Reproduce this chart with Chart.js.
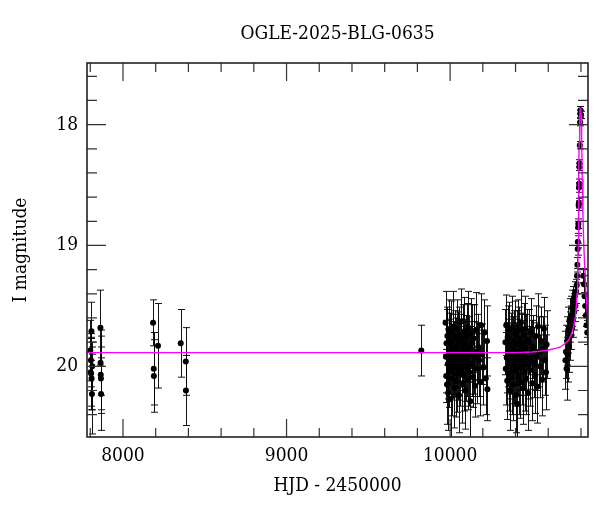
<!DOCTYPE html>
<html>
<head>
<meta charset="utf-8">
<script src="https://cdn.jsdelivr.net/npm/chart.js@4/dist/chart.umd.min.js"></script>
<style>
  html, body { margin: 0; padding: 0; background: #fff; }
</style>
</head>
<body>
<canvas id="lc" width="600" height="512"></canvas>
<script>
// OGLE light curve
var baseT = [7800, 7802, 7804, 7805, 7807, 7808, 7810, 7812, 7862, 7863, 7864, 7865, 7866,
    8184, 8188, 8189, 8214, 8353, 8384, 8385, 9824];
var baseMag = [19.87, 20.05, 19.95, 20.06, 19.71, 20.10, 20.23, 20.00, 19.68, 19.97, 20.07, 20.10, 20.23,
    19.64, 20.02, 20.08, 19.83, 19.81, 19.96, 20.20, 19.87];
var baseErr = [0.25, 0.28, 0.22, 0.30, 0.24, 0.26, 0.33, 0.2, 0.31, 0.27, 0.32, 0.26, 0.3,
    0.19, 0.3, 0.3, 0.35, 0.28, 0.28, 0.29, 0.21];

var s1T = [9972, 9974, 9976, 9978, 9981, 9983, 9986, 9988, 9991, 9993, 9996, 9999, 10002, 10004,
    10007, 10010, 10012, 10015, 10018, 10020, 10023, 10026, 10029, 10031, 10034, 10037, 10040,
    10042, 10045, 10048, 10051, 10054, 10057, 10060, 10063, 10066, 10069, 10072, 10075, 10078,
    10081, 10084, 10087, 10090, 10093, 10096, 10099, 10102, 10105, 10108, 10111, 10114, 10117,
    10120, 10124, 10128, 10132, 10136, 10140, 10144, 10148, 10152, 10157, 10162, 10167, 10172,
    10178, 10184, 10190, 10196, 10203, 10210, 10218, 10225, 10228];
var s1Mag = [19.64, 19.92, 20.08, 19.81, 20.15, 19.75, 19.98, 20.22, 19.70, 19.88, 20.04, 19.79, 19.95, 20.27,
    19.72, 19.90, 20.10, 19.84, 19.67, 20.01, 19.93, 20.18, 19.76, 19.97, 19.86, 20.12, 19.69,
    19.91, 20.06, 19.80, 19.99, 20.24, 19.74, 19.89, 20.03, 19.83, 19.63, 19.96, 20.14, 19.78,
    19.92, 20.07, 19.71, 19.87, 20.20, 19.82, 20.00, 19.75, 19.94, 20.11, 19.68, 19.85, 20.05,
    19.90, 20.29, 19.73, 19.98, 19.81, 20.09, 19.77, 19.93, 20.16, 19.70, 19.88, 20.02, 19.84,
    19.95, 20.13, 19.66, 19.90, 20.01, 19.72, 20.10, 19.79, 20.19];
var s1Err = [0.26, 0.3, 0.22, 0.28, 0.33, 0.24, 0.29, 0.31, 0.25, 0.27, 0.3, 0.23, 0.28, 0.32,
    0.26, 0.24, 0.31, 0.27, 0.29, 0.25, 0.3, 0.33, 0.22, 0.28, 0.26, 0.3, 0.24,
    0.27, 0.32, 0.25, 0.29, 0.31, 0.23, 0.28, 0.3, 0.26, 0.27, 0.24, 0.33, 0.29,
    0.25, 0.3, 0.28, 0.26, 0.32, 0.24, 0.29, 0.27, 0.31, 0.25, 0.3, 0.26, 0.28,
    0.23, 0.3, 0.29, 0.27, 0.32, 0.25, 0.28, 0.3, 0.26, 0.31, 0.24, 0.29, 0.27,
    0.3, 0.28, 0.26, 0.25, 0.31, 0.27, 0.3, 0.29, 0.26];

var s2T = [10338, 10340, 10343, 10346, 10349, 10352, 10355, 10358, 10361, 10364, 10367, 10370,
    10373, 10376, 10379, 10382, 10385, 10388, 10391, 10394, 10397, 10400, 10403, 10406, 10409,
    10412, 10415, 10418, 10421, 10424, 10427, 10430, 10433, 10436, 10439, 10442, 10445, 10448,
    10451, 10454, 10457, 10460, 10463, 10466, 10470, 10474, 10478, 10482, 10486, 10490, 10494,
    10498, 10503, 10508, 10513, 10518, 10523, 10528, 10533, 10538, 10544, 10550, 10556, 10562,
    10568, 10574, 10580, 10586, 10590];
var s2Mag = [19.80, 20.02, 19.66, 19.93, 20.12, 19.76, 19.89, 20.06, 19.71, 19.97, 20.20, 19.83,
    19.94, 20.09, 19.68, 19.87, 20.15, 19.79, 19.99, 20.04, 19.73, 19.90, 20.24, 19.82, 20.31,
    19.95, 19.70, 19.88, 20.08, 19.77, 19.92, 20.13, 19.64, 19.86, 20.01, 19.81, 19.96, 20.18,
    19.74, 19.91, 20.05, 19.69, 19.85, 20.10, 19.78, 19.98, 20.22, 19.80, 19.93, 20.03, 19.72,
    19.89, 20.14, 19.84, 19.97, 20.07, 19.75, 19.92, 20.17, 19.67, 19.88, 20.00, 19.79, 20.11,
    19.86, 19.69, 19.95, 20.05, 19.82];
var s2Err = [0.27, 0.3, 0.25, 0.29, 0.32, 0.26, 0.28, 0.31, 0.24, 0.3, 0.33, 0.27,
    0.29, 0.31, 0.26, 0.28, 0.3, 0.25, 0.32, 0.29, 0.27, 0.26, 0.31, 0.28, 0.3,
    0.29, 0.25, 0.27, 0.32, 0.26, 0.28, 0.3, 0.27, 0.29, 0.31, 0.25, 0.28, 0.3,
    0.26, 0.29, 0.32, 0.27, 0.28, 0.3, 0.25, 0.29, 0.31, 0.27, 0.26, 0.3, 0.28,
    0.27, 0.31, 0.26, 0.29, 0.32, 0.25, 0.28, 0.3, 0.27, 0.29, 0.26, 0.28, 0.3,
    0.27, 0.26, 0.29, 0.31, 0.28];

var riseT = [10705, 10708, 10712, 10715, 10718, 10722, 10726, 10730, 10734, 10738, 10742,
    10746, 10750, 10754, 10758, 10762, 10766, 10770];
var riseMag = [19.95, 19.88, 20.02, 19.79, 19.90, 19.70, 19.84, 19.62, 19.75, 19.58, 19.68,
    19.52, 19.60, 19.47, 19.55, 19.42, 19.50, 19.38];
var riseErr = [0.24, 0.22, 0.26, 0.2, 0.23, 0.19, 0.21, 0.18, 0.2, 0.16, 0.18,
    0.15, 0.16, 0.13, 0.15, 0.12, 0.13, 0.1];

var peakT = [10774, 10776, 10778, 10780, 10781, 10783, 10784, 10786, 10787, 10788, 10789,
    10790, 10791, 10793, 10795, 10796, 10797, 10800,
    10814, 10818, 10822, 10826, 10830, 10834, 10838];
var peakMag = [19.33, 19.25, 19.16, 19.03, 18.97, 18.85, 18.82, 18.67, 18.65, 18.52, 18.49,
    18.35, 18.32, 18.17, 17.98, 17.91, 17.88, 17.92,
    19.25, 19.32, 19.42, 19.50, 19.58, 19.66, 19.72];
var peakErr = [0.07, 0.06, 0.06, 0.05, 0.05, 0.05, 0.04, 0.04, 0.04, 0.04, 0.04,
    0.03, 0.03, 0.03, 0.03, 0.03, 0.03, 0.03,
    0.06, 0.07, 0.08, 0.08, 0.09, 0.1, 0.1];

// model curve
var modelT = [7700, 10400, 10500, 10551, 10600, 10650, 10674, 10700, 10724, 10740, 10755, 10765,
    10771, 10776, 10780, 10783, 10785, 10787, 10789, 10792, 10795, 10798, 10801, 10804,
    10808, 10812, 10816, 10822, 10830, 10837, 10843, 10850];
var modelMag = [19.887, 19.887, 19.882, 19.875, 19.865, 19.85, 19.84, 19.815, 19.785, 19.74, 19.675, 19.60,
    19.51, 19.40, 19.25, 19.00, 18.70, 18.40, 18.15, 17.95, 17.87, 17.86, 17.92, 18.10,
    18.45, 18.75, 18.95, 19.15, 19.38, 19.52, 19.65, 19.76];

var xTicks = [7800, 8000, 8200, 8400, 8600, 8800, 9000, 9200, 9400, 9600, 9800, 10000,
    10200, 10400, 10600, 10800];
var xLabels = [8000, 9000, 10000];
var yTicks = [17.6, 17.8, 18, 18.2, 18.4, 18.6, 18.8, 19, 19.2, 19.4, 19.6, 19.8, 20, 20.2, 20.4];
var yLabels = [18, 19, 20];

var allT = baseT.concat(s1T, s2T, riseT, peakT);
var allMag = baseMag.concat(s1Mag, s2Mag, riseMag, peakMag);
var allErr = baseErr.concat(s1Err, s2Err, riseErr, peakErr);

var FONT = "'DejaVu Serif Condensed', 'DejaVu Serif', 'Liberation Serif', serif";
var FSIZE = 19;

var errorBars = {
    id: 'errorBars',
    beforeDatasetsDraw: function (chart) {
        var ctx = chart.ctx, xs = chart.scales.x, ys = chart.scales.y, a = chart.chartArea;
        ctx.save();
        ctx.beginPath();
        ctx.rect(a.left, a.top, a.right - a.left, a.bottom - a.top);
        ctx.clip();
        ctx.strokeStyle = 'rgba(0,0,0,0.92)';
        ctx.lineWidth = 1;
        for (var i = 0; i < allT.length; i++) {
            var px = Math.round(xs.getPixelForValue(allT[i])) + 0.5;
            var y1 = ys.getPixelForValue(allMag[i] - allErr[i]);
            var y2 = ys.getPixelForValue(allMag[i] + allErr[i]);
            ctx.beginPath();
            ctx.moveTo(px, y1); ctx.lineTo(px, y2);
            ctx.moveTo(px - 3.5, y1); ctx.lineTo(px + 3.5, y1);
            ctx.moveTo(px - 3.5, y2); ctx.lineTo(px + 3.5, y2);
            ctx.stroke();
        }
        ctx.restore();
    }
};

var frame = {
    id: 'frame',
    afterDraw: function (chart) {
        var ctx = chart.ctx, xs = chart.scales.x, ys = chart.scales.y, a = chart.chartArea;
        ctx.save();
        ctx.strokeStyle = '#333';
        ctx.lineWidth = 1.2;
        ctx.beginPath();
        xTicks.forEach(function (v) {
            var p = xs.getPixelForValue(v);
            var len = xLabels.indexOf(v) >= 0 ? 18 : 9;
            ctx.moveTo(p, a.bottom); ctx.lineTo(p, a.bottom - len);
            ctx.moveTo(p, a.top); ctx.lineTo(p, a.top + len);
        });
        yTicks.forEach(function (v) {
            var p = ys.getPixelForValue(v);
            var len = yLabels.indexOf(v) >= 0 ? 19 : 10;
            ctx.moveTo(a.left, p); ctx.lineTo(a.left + len, p);
            ctx.moveTo(a.right, p); ctx.lineTo(a.right - len, p);
        });
        ctx.stroke();
        ctx.strokeStyle = '#222';
        ctx.lineWidth = 1.6;
        ctx.strokeRect(a.left, a.top, a.right - a.left, a.bottom - a.top);
        ctx.restore();
    }
};

var points = allT.map(function (t, i) { return { x: t, y: allMag[i] }; });
var model = modelT.map(function (t, i) { return { x: t, y: modelMag[i] }; });

new Chart(document.getElementById('lc').getContext('2d'), {
    type: 'scatter',
    data: {
        datasets: [{
            type: 'line',
            data: model,
            borderColor: '#ff00ff',
            borderWidth: 1.4,
            pointRadius: 0,
            tension: 0,
            fill: false,
            order: 0
        }, {
            data: points,
            pointRadius: 3,
            pointBackgroundColor: '#000',
            pointBorderWidth: 0,
            order: 1
        }]
    },
    options: {
        responsive: false,
        animation: false,
        devicePixelRatio: 1,
        layout: { padding: { top: 0, right: 12, bottom: 0, left: 0 } },
        plugins: {
            legend: { display: false },
            tooltip: { enabled: false },
            title: {
                display: true,
                fullSize: false,
                text: 'OGLE-2025-BLG-0635',
                color: '#000',
                font: { family: FONT, size: FSIZE, weight: 'normal' },
                padding: { top: 23, bottom: 17.2 }
            }
        },
        scales: {
            x: {
                type: 'linear',
                min: 7780,
                max: 10843,
                afterBuildTicks: function (s) { s.ticks = xTicks.map(function (v) { return { value: v }; }); },
                afterFit: function (s) { s.height = 75; },
                grid: { display: false, drawTicks: false },
                border: { display: false },
                ticks: {
                    autoSkip: false,
                    maxRotation: 0,
                    padding: 8,
                    color: '#000',
                    font: { family: FONT, size: FSIZE },
                    callback: function (v) { return xLabels.indexOf(v) >= 0 ? String(v) : ''; }
                },
                title: {
                    display: true,
                    text: 'HJD - 2450000',
                    color: '#000',
                    font: { family: FONT, size: FSIZE },
                    padding: { top: 0, bottom: 14.5 }
                }
            },
            y: {
                type: 'linear',
                reverse: true,
                min: 17.49,
                max: 20.585,
                afterBuildTicks: function (s) { s.ticks = yTicks.map(function (v) { return { value: v }; }); },
                afterFit: function (s) { s.width = 87; },
                grid: { display: false, drawTicks: false },
                border: { display: false },
                ticks: {
                    autoSkip: false,
                    padding: 9,
                    color: '#000',
                    font: { family: FONT, size: FSIZE },
                    callback: function (v) {
                        var r = Math.round(v * 10) / 10;
                        return yLabels.indexOf(r) >= 0 ? String(r) : '';
                    }
                },
                title: {
                    display: true,
                    text: 'I magnitude',
                    color: '#000',
                    font: { family: FONT, size: FSIZE },
                    padding: { top: 9.6, bottom: 0 }
                }
            }
        }
    },
    plugins: [errorBars, frame]
});
</script>
</body>
</html>
